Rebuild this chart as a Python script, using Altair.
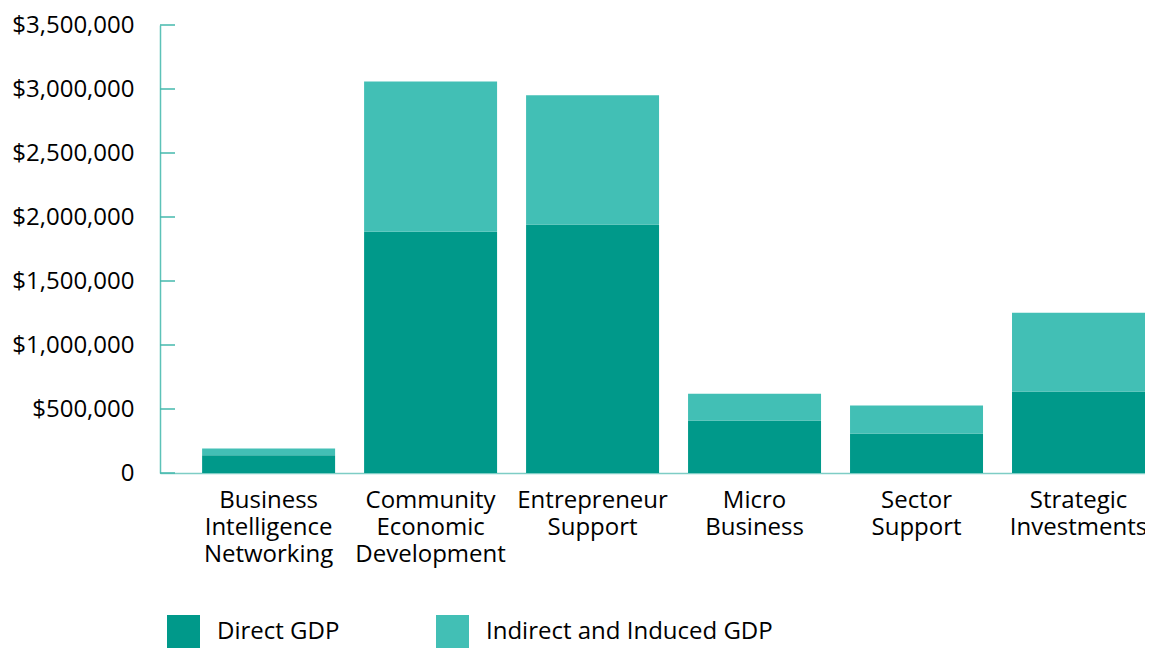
import altair as alt
import pandas as pd

categories = [
    "Business|Intelligence|Networking",
    "Community|Economic|Development",
    "Entrepreneur|Support",
    "Micro|Business",
    "Sector|Support",
    "Strategic|Investments",
]
direct_gdp = [139000, 1884000, 1941000, 410000, 308000, 636000]
indirect_gdp = [52000, 1175000, 1011000, 210000, 219000, 616000]
series_names = ["Direct GDP", "Indirect and Induced GDP"]
series_colors = ["#00998A", "#42BFB5"]
y_ticks = [0, 500000, 1000000, 1500000, 2000000, 2500000, 3000000, 3500000]

rows = []
for c, d, i in zip(categories, direct_gdp, indirect_gdp):
    rows.append({"category": c, "series": series_names[0], "value": d, "ord": 0})
    rows.append({"category": c, "series": series_names[1], "value": i, "ord": 1})
df = pd.DataFrame(rows)
ticks_df = pd.DataFrame({"v": y_ticks})

FONT = "Open Sans"
FS = 24

y_scale = alt.Scale(domain=[0, 3500000], nice=False, zero=True)

bars = alt.Chart(df).mark_bar().encode(
    x=alt.X(
        "category:N",
        sort=categories,
        title=None,
        scale=alt.Scale(paddingInner=0.179, paddingOuter=0.13, align=1),
        axis=alt.Axis(
            labelExpr="split(datum.label, '|')",
            labelAngle=0,
            labelFontSize=FS,
            labelFont=FONT,
            labelColor="#000000",
            labelLineHeight=27,
            labelPadding=15,
            ticks=False,
            domainColor="#7ECDC5",
            domainWidth=1.5,
            labelLimit=300,
        ),
    ),
    y=alt.Y(
        "value:Q",
        stack="zero",
        scale=y_scale,
        title=None,
        axis=alt.Axis(
            values=y_ticks,
            labelExpr="datum.value == 0 ? '0\u2005' : '$' + format(datum.value, ',')",
            labelFontSize=FS,
            labelFont=FONT,
            labelColor="#000000",
            labelPadding=26,
            ticks=False,
            grid=False,
            domainColor="#5CC2B8",
            domainWidth=1.5,
        ),
    ),
    color=alt.Color(
        "series:N",
        scale=alt.Scale(domain=series_names, range=series_colors),
        legend=alt.Legend(
            title=None,
            orient="none",
            legendX=7,
            legendY=590,
            direction="horizontal",
            symbolType="square",
            symbolSize=1089,
            symbolStrokeWidth=0,
            symbolOpacity=1,
            labelFont=FONT,
            labelFontSize=FS,
            labelColor="#000000",
            labelOffset=17,
            labelLimit=500,
            columnPadding=96,
        ),
    ),
    order=alt.Order("ord:Q", sort="ascending"),
)

tick_marks = alt.Chart(ticks_df).mark_rule(color="#45B9AD", strokeWidth=1.5).encode(
    y=alt.Y("v:Q", scale=y_scale),
    x=alt.value(0),
    x2=alt.value(15),
)

chart = alt.layer(bars, tick_marks).properties(
    width=985,
    height=448,
    padding={"left": 152, "top": 17, "right": 0, "bottom": 176},
    autosize=alt.AutoSizeParams(type="none"),
).configure_view(stroke=None)

chart.save("out.html", embed_options={"renderer": "svg", "actions": False})
